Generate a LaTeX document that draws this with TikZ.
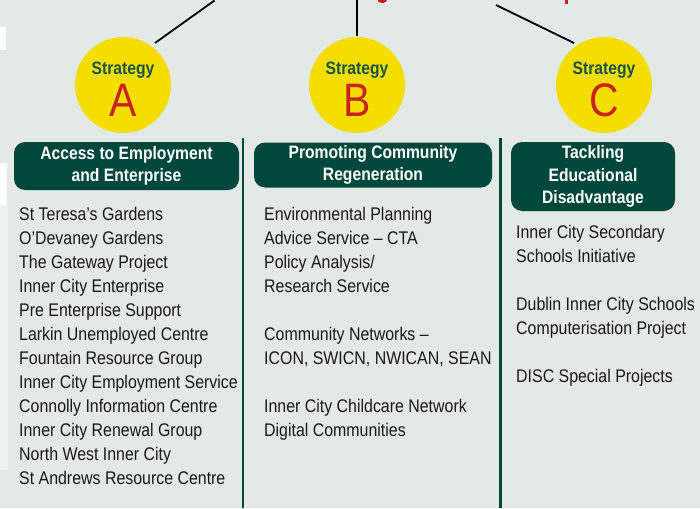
\documentclass[tikz,border=0pt]{standalone}
\usepackage{fontspec}
\setmainfont{Liberation Sans}[FakeStretch=0.87]
\definecolor{paper}{RGB}{227,233,230}
\definecolor{pine}{RGB}{0,72,60}
\definecolor{sun}{RGB}{246,221,0}
\definecolor{brick}{RGB}{200,36,30}
\definecolor{ink}{RGB}{25,25,25}
\definecolor{stratgreen}{RGB}{20,85,72}
\begin{document}
\begin{tikzpicture}[x=1pt,y=-1pt,
  bubble/.style={circle,fill=sun,minimum size=96pt,inner sep=0pt},
  stratword/.style={anchor=base,inner sep=0pt,text=stratgreen,font=\bfseries\fontsize{18}{18}\selectfont},
  stratletter/.style={anchor=base,inner sep=0pt,text=brick,font=\fontsize{47}{47}\selectfont},
  header/.style={fill=pine,rounded corners=11pt,text=white,align=center,inner sep=0pt,
                 font=\bfseries\fontsize{18}{21.5}\selectfont},
  item/.style={anchor=base west,inner sep=0pt,text=ink,font=\fontsize{18.3}{18}\selectfont},
  stem/.style={line width=1.8pt,black},
  divider/.style={line width=2.2pt,pine}]

% page
\fill[paper] (0,0) rectangle (700,508);
\useasboundingbox (0,0) rectangle (700,508);

% worn left edge
\fill[white] (0,27) rectangle (6,50);
\fill[white] (0,163) rectangle (7,205);
\fill[white,opacity=0.45] (0,205) rectangle (8,470);

% descenders of the heading above
\fill[brick] (378,0) -- (387,0) -- (386,1.8) .. controls (383,3.6) and (380,3.4) .. (378,1.5) -- cycle;
\fill[brick] (564.5,0) rectangle (568,3.6);

% strategy bubbles
\node[bubble] (ca) at (123,85) {};
\node[bubble] (cb) at (357,85) {};
\node[bubble] (cc) at (604,85) {};

\node[stratword] (sa) at (123,75) {Strategy};
\node[stratword] (sb) at (357,75) {Strategy};
\node[stratword] (sc) at (604,75) {Strategy};
\node[stratletter] (la) at (123,117) {A};
\node[stratletter] (lb) at (357,117) {B};
\node[stratletter] (lc) at (604,117) {C};

% stems up to the heading
\coordinate (ta) at (214.5,0.5);
\coordinate (fa) at (155,43);
\coordinate (tb) at (357,0);
\coordinate (fb) at (357,36);
\coordinate (tc) at (496,5);
\coordinate (fc) at (574,43);
\draw[stem] (fa) -- (ta);
\draw[stem] (fb) -- (tb);
\draw[stem] (fc) -- (tc);

% column dividers
\coordinate (d1t) at (243,138);
\coordinate (d1b) at (243,508);
\coordinate (d2t) at (500.5,138);
\coordinate (d2b) at (500.5,508);
\draw[divider] (d1t) -- (d1b);
\draw[divider] (d2t) -- (d2b);

% headers
\node[header,minimum width=225pt,minimum height=48pt] (ha) at (126.5,166)
  {Access to Employment\\and Enterprise};
\node[header,minimum width=238pt,minimum height=45pt] (hb) at (373,165)
  {Promoting Community\\Regeneration};
\node[header,minimum width=164pt,minimum height=69pt,font=\bfseries\fontsize{18}{22.5}\selectfont] (hc) at (593,176.5)
  {Tackling\\Educational\\Disadvantage};

% column A
\foreach \t [count=\i] in {St Teresa’s Gardens, O’Devaney Gardens, The Gateway Project,
    Inner City Enterprise, Pre Enterprise Support, Larkin Unemployed Centre,
    Fountain Resource Group, Inner City Employment Service, Connolly Information Centre,
    Inner City Renewal Group, North West Inner City, St Andrews Resource Centre}
  \node[item] (a\i) at (19,{220+24*(\i-1)}) {\t};

% column B
\node[item] (b1) at (264,220) {Environmental Planning};
\node[item] (b2) at (264,244) {Advice Service – CTA};
\node[item] (b3) at (264,268) {Policy Analysis/};
\node[item] (b4) at (264,292) {Research Service};
\node[item] (b5) at (264,340) {Community Networks –};
\node[item] (b6) at (264,364) {ICON, SWICN, NWICAN, SEAN};
\node[item] (b7) at (264,412) {Inner City Childcare Network};
\node[item] (b8) at (264,436) {Digital Communities};

% column C
\node[item] (c1) at (516,238) {Inner City Secondary};
\node[item] (c2) at (516,262) {Schools Initiative};
\node[item] (c3) at (516,310) {Dublin Inner City Schools};
\node[item] (c4) at (516,334) {Computerisation Project};
\node[item] (c5) at (516,382) {DISC Special Projects};
\end{tikzpicture}
\end{document}
